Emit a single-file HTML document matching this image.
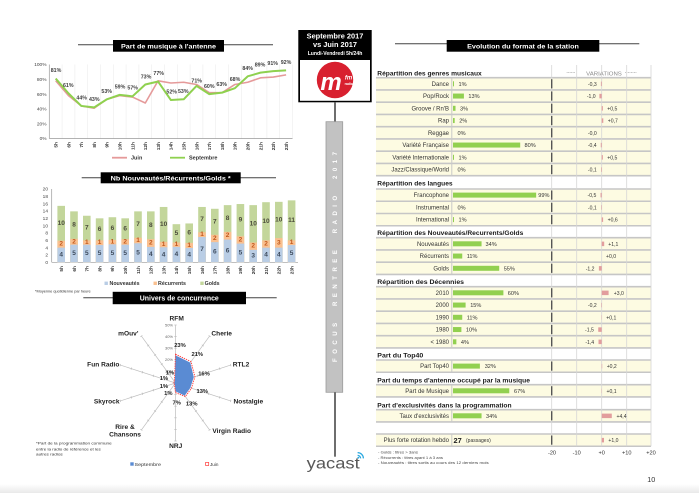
<!DOCTYPE html>
<html><head><meta charset="utf-8"><style>
html,body{margin:0;padding:0;background:#fff;}
svg{display:block;font-family:"Liberation Sans",Arial,sans-serif;}
</style></head><body>
<svg width="699" height="493" viewBox="0 0 699 493" xmlns="http://www.w3.org/2000/svg">
<defs><linearGradient id="bg" x1="0" y1="0" x2="0" y2="1"><stop offset="0" stop-color="#fff"/><stop offset="1" stop-color="#e9e9e9"/></linearGradient></defs>
<rect width="699" height="493" fill="#fff"/>
<rect y="484" width="699" height="9" fill="url(#bg)"/>

<!-- ===== Line chart ===== -->
<line x1="78" y1="44.7" x2="273" y2="44.7" stroke="#444" stroke-width="1"/>
<rect x="113" y="40" width="111" height="11.7" fill="#000"/>
<text x="168.5" y="48.4" fill="#fff" font-size="6.8" font-weight="bold" text-anchor="middle" textLength="95" lengthAdjust="spacingAndGlyphs">Part de musique à l'antenne</text>

<g stroke="#ececec" stroke-width="0.6">
<line x1="62.1" y1="64.5" x2="62.1" y2="138.5"/><line x1="74.9" y1="64.5" x2="74.9" y2="138.5"/><line x1="87.7" y1="64.5" x2="87.7" y2="138.5"/><line x1="100.5" y1="64.5" x2="100.5" y2="138.5"/><line x1="113.3" y1="64.5" x2="113.3" y2="138.5"/><line x1="126.1" y1="64.5" x2="126.1" y2="138.5"/><line x1="138.9" y1="64.5" x2="138.9" y2="138.5"/><line x1="151.7" y1="64.5" x2="151.7" y2="138.5"/><line x1="164.5" y1="64.5" x2="164.5" y2="138.5"/><line x1="177.3" y1="64.5" x2="177.3" y2="138.5"/><line x1="190.1" y1="64.5" x2="190.1" y2="138.5"/><line x1="202.9" y1="64.5" x2="202.9" y2="138.5"/><line x1="215.7" y1="64.5" x2="215.7" y2="138.5"/><line x1="228.5" y1="64.5" x2="228.5" y2="138.5"/><line x1="241.3" y1="64.5" x2="241.3" y2="138.5"/><line x1="254.1" y1="64.5" x2="254.1" y2="138.5"/><line x1="266.9" y1="64.5" x2="266.9" y2="138.5"/><line x1="279.7" y1="64.5" x2="279.7" y2="138.5"/><line x1="292.5" y1="64.5" x2="292.5" y2="138.5"/>
</g>
<line x1="49.3" y1="64.5" x2="49.3" y2="138.5" stroke="#999" stroke-width="0.7"/>
<line x1="49.3" y1="138.5" x2="292.5" y2="138.5" stroke="#999" stroke-width="0.7"/>
<g font-size="4.8" fill="#444" text-anchor="end">
<text x="46.5" y="66.2">100%</text><text x="46.5" y="81">80%</text><text x="46.5" y="95.8">60%</text><text x="46.5" y="110.6">40%</text><text x="46.5" y="125.4">20%</text><text x="46.5" y="140.2">0%</text>
</g>
<polyline fill="none" stroke="#e59a9a" stroke-width="1.6" stroke-linejoin="round" points="55.7,80.78 68.5,95.58 81.3,105.94 94.1,108.16 106.9,99.28 119.7,95.58 132.5,97.06 145.3,102.98 158.1,80.78 170.9,83 183.7,82.26 196.5,84.48 209.3,92.62 222.1,92.62 234.9,84.48 247.7,82.26 260.5,77.82 273.3,77.08 286.1,74.86"/>
<polyline fill="none" stroke="#8fd14f" stroke-width="2" stroke-linejoin="round" points="55.7,78.56 68.5,93.36 81.3,105.94 94.1,107.42 106.9,99.28 119.7,94.84 132.5,96.32 145.3,84.48 158.1,81.52 170.9,100.02 183.7,99.28 196.5,85.96 209.3,94.1 222.1,92.62 234.9,88.18 247.7,76.34 260.5,72.64 273.3,71.16 286.1,70.42"/>
<g font-size="5.3" font-weight="bold" fill="#404040" text-anchor="middle">
<text x="56" y="71.9">81%</text><text x="68.3" y="87.2">61%</text><text x="81.7" y="99.6">44%</text><text x="94.3" y="100.9">43%</text><text x="106.7" y="92.9">53%</text><text x="120" y="88.6">59%</text><text x="132.7" y="89.6">57%</text><text x="146" y="78.6">73%</text><text x="158.7" y="75.2">77%</text><text x="171.7" y="93.6">52%</text><text x="183.3" y="93.2">53%</text><text x="196.7" y="82.6">71%</text><text x="209.3" y="87.9">60%</text><text x="221.7" y="85.9">63%</text><text x="235" y="81.2">68%</text><text x="247.7" y="70.2">84%</text><text x="260" y="66.6">89%</text><text x="272.7" y="65.2">91%</text><text x="286" y="64.2">92%</text>
</g>
<g font-size="4.8" font-weight="bold" fill="#333" text-anchor="end">
<text transform="rotate(-90 57.5 142)" x="57.5" y="142">5h</text>
<text transform="rotate(-90 70.3 142)" x="70.3" y="142">6h</text>
<text transform="rotate(-90 83.1 142)" x="83.1" y="142">7h</text>
<text transform="rotate(-90 95.9 142)" x="95.9" y="142">8h</text>
<text transform="rotate(-90 108.7 142)" x="108.7" y="142">9h</text>
<text transform="rotate(-90 121.5 142)" x="121.5" y="142">10h</text>
<text transform="rotate(-90 134.3 142)" x="134.3" y="142">11h</text>
<text transform="rotate(-90 147.1 142)" x="147.1" y="142">12h</text>
<text transform="rotate(-90 159.9 142)" x="159.9" y="142">13h</text>
<text transform="rotate(-90 172.7 142)" x="172.7" y="142">14h</text>
<text transform="rotate(-90 185.5 142)" x="185.5" y="142">15h</text>
<text transform="rotate(-90 198.3 142)" x="198.3" y="142">16h</text>
<text transform="rotate(-90 211.1 142)" x="211.1" y="142">17h</text>
<text transform="rotate(-90 223.9 142)" x="223.9" y="142">18h</text>
<text transform="rotate(-90 236.7 142)" x="236.7" y="142">19h</text>
<text transform="rotate(-90 249.5 142)" x="249.5" y="142">20h</text>
<text transform="rotate(-90 262.3 142)" x="262.3" y="142">21h</text>
<text transform="rotate(-90 275.1 142)" x="275.1" y="142">22h</text>
<text transform="rotate(-90 287.9 142)" x="287.9" y="142">23h</text>
</g>
<line x1="112" y1="157.7" x2="127" y2="157.7" stroke="#e59a9a" stroke-width="1.8"/>
<text x="131" y="159.6" font-size="5.5" font-weight="bold" fill="#333">Juin</text>
<line x1="170" y1="157.7" x2="185" y2="157.7" stroke="#8fd14f" stroke-width="1.8"/>
<text x="189" y="159.6" font-size="5.5" font-weight="bold" fill="#333">Septembre</text>

<!-- ===== Bar chart ===== -->
<line x1="81.7" y1="177.7" x2="276" y2="177.7" stroke="#444" stroke-width="1"/>
<rect x="100.7" y="172.3" width="140" height="11" fill="#000"/>
<text x="170.7" y="180.4" fill="#fff" font-size="6.8" font-weight="bold" text-anchor="middle" textLength="120" lengthAdjust="spacingAndGlyphs">Nb Nouveautés/Récurrents/Golds *</text>
<g font-size="4.8" fill="#444" text-anchor="end">
<text x="48" y="264">0</text><text x="48" y="256.7">2</text><text x="48" y="249.3">4</text><text x="48" y="242">6</text><text x="48" y="234.7">8</text><text x="48" y="227.4">10</text><text x="48" y="220">12</text><text x="48" y="212.7">14</text><text x="48" y="205.4">16</text><text x="48" y="198">18</text><text x="48" y="190.7">20</text>
</g>
<line x1="51.7" y1="189" x2="51.7" y2="262.3" stroke="#999" stroke-width="0.7"/>
<line x1="51.7" y1="262.3" x2="298" y2="262.3" stroke="#999" stroke-width="0.7"/>
<g>
<g fill="#c3d69b">
<rect x="57.4" y="205.86" width="7.6" height="56.44"/><rect x="70.2" y="211.36" width="7.6" height="50.94"/><rect x="83" y="215.75" width="7.6" height="46.55"/><rect x="95.8" y="218.32" width="7.6" height="43.98"/><rect x="108.6" y="217.22" width="7.6" height="45.08"/><rect x="121.4" y="218.32" width="7.6" height="43.98"/><rect x="134.2" y="211.36" width="7.6" height="50.94"/><rect x="147" y="211.36" width="7.6" height="50.94"/><rect x="159.8" y="206.96" width="7.6" height="55.34"/><rect x="172.6" y="224.18" width="7.6" height="38.12"/><rect x="185.4" y="223.45" width="7.6" height="38.85"/><rect x="198.2" y="206.96" width="7.6" height="55.34"/><rect x="211" y="208.79" width="7.6" height="53.51"/><rect x="223.8" y="205.13" width="7.6" height="57.17"/><rect x="236.6" y="204.03" width="7.6" height="58.27"/><rect x="249.4" y="205.13" width="7.6" height="57.17"/><rect x="262.2" y="202.19" width="7.6" height="60.11"/><rect x="275" y="201.83" width="7.6" height="60.47"/><rect x="287.8" y="200.36" width="7.6" height="61.94"/>
</g>
<g fill="#fac090">
<rect x="57.4" y="240.68" width="7.6" height="21.62"/><rect x="70.2" y="238.84" width="7.6" height="23.46"/><rect x="83" y="240.31" width="7.6" height="21.99"/><rect x="95.8" y="240.31" width="7.6" height="21.99"/><rect x="108.6" y="239.94" width="7.6" height="22.36"/><rect x="121.4" y="239.21" width="7.6" height="23.09"/><rect x="134.2" y="237.74" width="7.6" height="24.56"/><rect x="147" y="239.21" width="7.6" height="23.09"/><rect x="159.8" y="241.78" width="7.6" height="20.52"/><rect x="172.6" y="242.51" width="7.6" height="19.79"/><rect x="185.4" y="242.88" width="7.6" height="19.42"/><rect x="198.2" y="232.25" width="7.6" height="30.05"/><rect x="211" y="234.81" width="7.6" height="27.49"/><rect x="223.8" y="231.88" width="7.6" height="30.42"/><rect x="236.6" y="236.28" width="7.6" height="26.02"/><rect x="249.4" y="242.51" width="7.6" height="19.79"/><rect x="262.2" y="240.31" width="7.6" height="21.99"/><rect x="275" y="238.11" width="7.6" height="24.19"/><rect x="287.8" y="240.31" width="7.6" height="21.99"/>
</g>
<g fill="#b9cde5">
<rect x="57.4" y="247.64" width="7.6" height="14.66"/><rect x="70.2" y="244.71" width="7.6" height="17.59"/><rect x="83" y="244.71" width="7.6" height="17.59"/><rect x="95.8" y="245.07" width="7.6" height="17.23"/><rect x="108.6" y="244.34" width="7.6" height="17.96"/><rect x="121.4" y="244.71" width="7.6" height="17.59"/><rect x="134.2" y="243.24" width="7.6" height="19.06"/><rect x="147" y="246.91" width="7.6" height="15.39"/><rect x="159.8" y="247.27" width="7.6" height="15.03"/><rect x="172.6" y="246.91" width="7.6" height="15.39"/><rect x="185.4" y="248.01" width="7.6" height="14.29"/><rect x="198.2" y="237.01" width="7.6" height="25.29"/><rect x="211" y="242.14" width="7.6" height="20.16"/><rect x="223.8" y="239.58" width="7.6" height="22.72"/><rect x="236.6" y="243.61" width="7.6" height="18.69"/><rect x="249.4" y="249.84" width="7.6" height="12.46"/><rect x="262.2" y="247.64" width="7.6" height="14.66"/><rect x="275" y="247.64" width="7.6" height="14.66"/><rect x="287.8" y="245.07" width="7.6" height="17.23"/>
</g>
</g>
<g font-size="6.5" font-weight="bold" text-anchor="middle" dominant-baseline="central">
<g fill="#3d4a5c">
<text x="61.2" y="254.97">4</text><text x="74" y="253.5">5</text><text x="86.8" y="253.5">5</text><text x="99.6" y="253.69">5</text><text x="112.4" y="253.32">5</text><text x="125.2" y="253.5">5</text><text x="138" y="252.77">5</text><text x="150.8" y="254.6">4</text><text x="163.6" y="254.79">4</text><text x="176.4" y="254.6">4</text><text x="189.2" y="255.15">4</text><text x="202" y="249.66">7</text><text x="214.8" y="252.22">6</text><text x="227.6" y="250.94">6</text><text x="240.4" y="252.96">5</text><text x="253.2" y="256.07">3</text><text x="266" y="254.97">4</text><text x="278.8" y="254.97">4</text><text x="291.6" y="253.69">5</text>
</g>
<g fill="#c0571a">
<text x="61.2" y="244.16">2</text><text x="74" y="241.78">2</text><text x="86.8" y="242.51">1</text><text x="99.6" y="242.69">1</text><text x="112.4" y="242.14">1</text><text x="125.2" y="241.96">2</text><text x="138" y="240.49">1</text><text x="150.8" y="243.06">2</text><text x="163.6" y="244.53">1</text><text x="176.4" y="244.71">1</text><text x="189.2" y="245.45">1</text><text x="202" y="234.63">1</text><text x="214.8" y="238.48">2</text><text x="227.6" y="235.73">2</text><text x="240.4" y="239.95">2</text><text x="253.2" y="246.18">2</text><text x="266" y="243.98">2</text><text x="278.8" y="242.88">3</text><text x="291.6" y="242.69">1</text>
</g>
<g fill="#4a4a3a">
<text x="61.2" y="223.27">10</text><text x="74" y="225.1">8</text><text x="86.8" y="228.03">7</text><text x="99.6" y="229.32">6</text><text x="112.4" y="228.58">6</text><text x="125.2" y="228.77">6</text><text x="138" y="224.55">7</text><text x="150.8" y="225.29">8</text><text x="163.6" y="224.37">10</text><text x="176.4" y="233.35">5</text><text x="189.2" y="233.17">6</text><text x="202" y="219.61">7</text><text x="214.8" y="221.8">7</text><text x="227.6" y="218.5">8</text><text x="240.4" y="220.16">9</text><text x="253.2" y="223.82">10</text><text x="266" y="221.25">10</text><text x="278.8" y="219.97">10</text><text x="291.6" y="220.34">11</text>
</g>
</g>
<g font-size="4.8" font-weight="bold" fill="#333" text-anchor="end">
<text transform="rotate(-90 63 266)" x="63" y="266">5h</text>
<text transform="rotate(-90 75.8 266)" x="75.8" y="266">6h</text>
<text transform="rotate(-90 88.6 266)" x="88.6" y="266">7h</text>
<text transform="rotate(-90 101.4 266)" x="101.4" y="266">8h</text>
<text transform="rotate(-90 114.2 266)" x="114.2" y="266">9h</text>
<text transform="rotate(-90 127 266)" x="127" y="266">10h</text>
<text transform="rotate(-90 139.8 266)" x="139.8" y="266">11h</text>
<text transform="rotate(-90 152.6 266)" x="152.6" y="266">12h</text>
<text transform="rotate(-90 165.4 266)" x="165.4" y="266">13h</text>
<text transform="rotate(-90 178.2 266)" x="178.2" y="266">14h</text>
<text transform="rotate(-90 191 266)" x="191" y="266">15h</text>
<text transform="rotate(-90 203.8 266)" x="203.8" y="266">16h</text>
<text transform="rotate(-90 216.6 266)" x="216.6" y="266">17h</text>
<text transform="rotate(-90 229.4 266)" x="229.4" y="266">18h</text>
<text transform="rotate(-90 242.2 266)" x="242.2" y="266">19h</text>
<text transform="rotate(-90 255 266)" x="255" y="266">20h</text>
<text transform="rotate(-90 267.8 266)" x="267.8" y="266">21h</text>
<text transform="rotate(-90 280.6 266)" x="280.6" y="266">22h</text>
<text transform="rotate(-90 293.4 266)" x="293.4" y="266">23h</text>
</g>
<rect x="104.5" y="281.6" width="3.4" height="3.4" fill="#b9cde5"/>
<text x="109.5" y="285.2" font-size="5.3" font-weight="bold" fill="#333">Nouveautés</text>
<rect x="153.5" y="281.6" width="3.4" height="3.4" fill="#fac090"/>
<text x="158" y="285.2" font-size="5.3" font-weight="bold" fill="#333">Récurrents</text>
<rect x="200.3" y="281.6" width="3.4" height="3.4" fill="#c3d69b"/>
<text x="204.6" y="285.2" font-size="5.3" font-weight="bold" fill="#333">Golds</text>
<text x="35" y="292.6" font-size="3.8" fill="#333" textLength="55.7" lengthAdjust="spacingAndGlyphs">*Moyenne quotidienne par heure</text>

<!-- ===== Radar ===== -->
<line x1="83.3" y1="297.7" x2="276.7" y2="297.7" stroke="#444" stroke-width="1"/>
<rect x="112.7" y="291.8" width="133.3" height="12.4" fill="#000"/>
<text x="179.3" y="300.4" fill="#fff" font-size="7" font-weight="bold" text-anchor="middle" textLength="79" lengthAdjust="spacingAndGlyphs">Univers de concurrence</text>

<g stroke="#bdbdbd" stroke-width="0.7">
<g id="ax"><line x1="175.5" y1="383" x2="175.5" y2="325"/><line x1="174.3" y1="371.4" x2="176.7" y2="371.4"/><line x1="174.3" y1="359.8" x2="176.7" y2="359.8"/><line x1="174.3" y1="348.2" x2="176.7" y2="348.2"/><line x1="174.3" y1="336.6" x2="176.7" y2="336.6"/><line x1="174.3" y1="325" x2="176.7" y2="325"/></g>
<use href="#ax" transform="rotate(36 175.5 383)"/><use href="#ax" transform="rotate(72 175.5 383)"/><use href="#ax" transform="rotate(108 175.5 383)"/><use href="#ax" transform="rotate(144 175.5 383)"/><use href="#ax" transform="rotate(180 175.5 383)"/><use href="#ax" transform="rotate(216 175.5 383)"/><use href="#ax" transform="rotate(252 175.5 383)"/><use href="#ax" transform="rotate(288 175.5 383)"/><use href="#ax" transform="rotate(324 175.5 383)"/>
</g>
<g font-size="4" fill="#666" text-anchor="end">
<text x="173" y="326.4">50%</text><text x="173" y="338">40%</text><text x="173" y="349.6">30%</text><text x="173" y="361.2">20%</text><text x="173" y="372.8">10%</text>
</g>
<polygon points="175.5,355.4 190.31,362.61 193.76,377.07 190.34,387.82 184.67,395.62 175.5,391.4 174.79,383.97 174.36,383.37 174.36,382.63 174.79,382.03" fill="#5a8bd3"/>
<polygon points="175.5,354.2 191.02,361.64 194.9,376.7 191.48,388.19 185.38,396.59 175.5,392.6 174.44,384.46 173.79,383.56 173.79,382.44 174.44,381.54" fill="none" stroke="#ff3b3b" stroke-width="0.9" stroke-dasharray="1.4 0.9"/>
<g font-size="5.8" font-weight="bold" fill="#222" text-anchor="middle">
<text x="180" y="347">23%</text><text x="197.3" y="356">21%</text><text x="204" y="375.7">16%</text><text x="202.3" y="393">13%</text><text x="191.7" y="405.7">13%</text><text x="176.7" y="404.3">7%</text><text x="168.3" y="395">1%</text><text x="164" y="388">1%</text><text x="164" y="380">1%</text><text x="170" y="374.3">1%</text>
</g>
<g font-size="6.6" font-weight="bold" fill="#222" text-anchor="middle">
<text x="176.7" y="320.6">RFM</text><text x="221.7" y="335.6">Cherie</text><text x="241" y="366.3">RTL2</text><text x="248.3" y="403.3">Nostalgie</text><text x="231.7" y="433">Virgin Radio</text><text x="175.7" y="448">NRJ</text><text x="125" y="429">Rire &amp;</text><text x="125" y="436.6">Chansons</text><text x="106.7" y="403.3">Skyrock</text><text x="103.3" y="366.3">Fun Radio</text><text x="128.3" y="335.6">mOuv'</text>
</g>
<g font-size="3.9" fill="#333">
<text x="36" y="444.6" textLength="75.7" lengthAdjust="spacingAndGlyphs">*Part de la programmation commune</text>
<text x="36" y="450.3" textLength="64.7" lengthAdjust="spacingAndGlyphs">entre la radio de référence et les</text>
<text x="36" y="455.6" textLength="26.7" lengthAdjust="spacingAndGlyphs">autres radios</text>
</g>
<rect x="130.3" y="462.3" width="3.4" height="3.4" fill="#5a8bd3"/>
<text x="134.5" y="465.8" font-size="4.6" fill="#333" textLength="26.5" lengthAdjust="spacingAndGlyphs">Septembre</text>
<rect x="205.6" y="462.4" width="3.1" height="3.1" fill="#fff" stroke="#ff3b3b" stroke-width="0.7"/>
<text x="210" y="465.8" font-size="4.6" fill="#333">Juin</text>

<!-- ===== Center column ===== -->
<rect x="298.3" y="30" width="73.4" height="72.3" fill="#000"/>
<rect x="300" y="60" width="70" height="40.8" fill="#fff"/>
<text x="335" y="38.7" fill="#fff" font-size="7.4" font-weight="bold" text-anchor="middle">Septembre 2017</text>
<text x="335" y="46.8" fill="#fff" font-size="7.4" font-weight="bold" text-anchor="middle">vs Juin 2017</text>
<text x="335" y="55.2" fill="#fff" font-size="5.1" font-weight="bold" text-anchor="middle">Lundi-Vendredi 5h/24h</text>
<circle cx="335" cy="80" r="18.2" fill="#d8202f"/>
<text x="331" y="90" fill="#fff" font-size="24" font-weight="bold" font-style="italic" text-anchor="middle">m</text>
<text x="348.5" y="79.5" fill="#fff" font-size="6" font-weight="bold" font-style="italic" text-anchor="middle">fm</text>
<text x="348.8" y="85" fill="#fff" font-size="3.4" font-weight="bold" text-anchor="middle">radio</text>
<line x1="335" y1="102.3" x2="335" y2="122" stroke="#4a4a4a" stroke-width="1.6"/>
<rect x="326" y="121.7" width="16.7" height="270.6" fill="#c2c2c2" stroke="#9c9c9c" stroke-width="0.8"/>
<text transform="translate(337.2,257) rotate(-90)" x="0" y="0" fill="#fff" font-size="6" font-weight="bold" text-anchor="middle" textLength="210" lengthAdjust="spacing" style="white-space:pre">FOCUS  RENTREE  RADIO  2017</text>
<line x1="335" y1="392.3" x2="335" y2="456.7" stroke="#4a4a4a" stroke-width="1.6"/>
<text x="306.7" y="468.3" fill="#585858" font-size="16" textLength="53" lengthAdjust="spacingAndGlyphs">yacast</text>
<g fill="none" stroke="#2aa9e0" stroke-width="1.3">
<path d="M357.6 455.4 A3 3 0 0 1 360.6 458.4"/>
<path d="M357.6 452.6 A5.8 5.8 0 0 1 363.4 458.4"/>
</g>
<circle cx="358.3" cy="457.7" r="0.9" fill="#2aa9e0"/>

<!-- ===== Right table ===== -->
<line x1="395" y1="43.7" x2="639.3" y2="43.7" stroke="#444" stroke-width="1"/>
<rect x="446.7" y="40" width="152.6" height="11.7" fill="#000"/>
<text x="523" y="48.4" fill="#fff" font-size="6.8" font-weight="bold" text-anchor="middle" textLength="111.7" lengthAdjust="spacingAndGlyphs">Evolution du format de la station</text>

<text x="604" y="75.3" font-size="5.5" fill="#8a8a8a" text-anchor="middle" textLength="35.7" lengthAdjust="spacingAndGlyphs">VARIATIONS</text>
<line x1="566.7" y1="72.3" x2="575" y2="72.3" stroke="#9a9a9a" stroke-width="0.6" stroke-dasharray="0.9 0.6"/>
<line x1="625" y1="72.3" x2="636.7" y2="72.3" stroke="#9a9a9a" stroke-width="0.6" stroke-dasharray="0.9 0.6"/>

<g fill="#fdfbe2">
<rect x="376" y="77.7" width="275" height="98"/>
<rect x="376" y="189" width="275" height="36.75"/>
<rect x="376" y="237.7" width="275" height="36.75"/>
<rect x="376" y="286.7" width="275" height="61.25"/>
<rect x="376" y="360" width="275" height="12.25"/>
<rect x="376" y="384.7" width="275" height="12.25"/>
<rect x="376" y="409.7" width="275" height="12.25"/>
<rect x="376" y="434" width="275" height="12.25"/>
</g>
<g stroke="#c6c6c6" stroke-width="1.6">
<line x1="376" y1="77.7" x2="651" y2="77.7"/><line x1="376" y1="89.95" x2="651" y2="89.95"/><line x1="376" y1="102.2" x2="651" y2="102.2"/><line x1="376" y1="114.45" x2="651" y2="114.45"/><line x1="376" y1="126.7" x2="651" y2="126.7"/><line x1="376" y1="138.95" x2="651" y2="138.95"/><line x1="376" y1="151.2" x2="651" y2="151.2"/><line x1="376" y1="163.45" x2="651" y2="163.45"/><line x1="376" y1="175.7" x2="651" y2="175.7"/>
<line x1="376" y1="189" x2="651" y2="189"/><line x1="376" y1="201.25" x2="651" y2="201.25"/><line x1="376" y1="213.5" x2="651" y2="213.5"/><line x1="376" y1="225.75" x2="651" y2="225.75"/>
<line x1="376" y1="237.7" x2="651" y2="237.7"/><line x1="376" y1="249.95" x2="651" y2="249.95"/><line x1="376" y1="262.2" x2="651" y2="262.2"/><line x1="376" y1="274.45" x2="651" y2="274.45"/>
<line x1="376" y1="286.7" x2="651" y2="286.7"/><line x1="376" y1="298.95" x2="651" y2="298.95"/><line x1="376" y1="311.2" x2="651" y2="311.2"/><line x1="376" y1="323.45" x2="651" y2="323.45"/><line x1="376" y1="335.7" x2="651" y2="335.7"/><line x1="376" y1="347.95" x2="651" y2="347.95"/>
<line x1="376" y1="360" x2="651" y2="360"/><line x1="376" y1="372.25" x2="651" y2="372.25"/>
<line x1="376" y1="384.7" x2="651" y2="384.7"/><line x1="376" y1="396.95" x2="651" y2="396.95"/>
<line x1="376" y1="409.7" x2="651" y2="409.7"/><line x1="376" y1="421.95" x2="651" y2="421.95"/>
<line x1="376" y1="434" x2="651" y2="434"/><line x1="376" y1="446.25" x2="651" y2="446.25"/>
</g>
<g stroke="#c9c9c9" stroke-width="1">
<line x1="451.8" y1="77.7" x2="451.8" y2="175.7"/><line x1="451.8" y1="189" x2="451.8" y2="225.75"/><line x1="451.8" y1="237.7" x2="451.8" y2="274.45"/><line x1="451.8" y1="286.7" x2="451.8" y2="347.95"/><line x1="451.8" y1="360" x2="451.8" y2="372.25"/><line x1="451.8" y1="384.7" x2="451.8" y2="396.95"/><line x1="451.8" y1="409.7" x2="451.8" y2="421.95"/><line x1="451.8" y1="434" x2="451.8" y2="446.25"/>
</g>
<g stroke="#d6d6d6" stroke-width="0.8">
<line x1="551.7" y1="65" x2="551.7" y2="446.25"/>
<line x1="576.7" y1="65" x2="576.7" y2="446.25"/>
<line x1="601.7" y1="65" x2="601.7" y2="446.25"/>
<line x1="626.7" y1="65" x2="626.7" y2="446.25"/>
<line x1="651" y1="65" x2="651" y2="446.25"/>
</g>
<g stroke="#555" stroke-width="1.4">
<line x1="551.7" y1="79.2" x2="551.7" y2="88.4"/><line x1="551.7" y1="91.45" x2="551.7" y2="100.65"/><line x1="551.7" y1="103.7" x2="551.7" y2="112.9"/><line x1="551.7" y1="115.95" x2="551.7" y2="125.15"/><line x1="551.7" y1="128.2" x2="551.7" y2="137.4"/><line x1="551.7" y1="140.45" x2="551.7" y2="149.65"/><line x1="551.7" y1="152.7" x2="551.7" y2="161.9"/><line x1="551.7" y1="164.95" x2="551.7" y2="174.15"/>
<line x1="551.7" y1="190.5" x2="551.7" y2="199.7"/><line x1="551.7" y1="202.75" x2="551.7" y2="211.95"/><line x1="551.7" y1="215" x2="551.7" y2="224.2"/>
<line x1="551.7" y1="239.2" x2="551.7" y2="248.4"/><line x1="551.7" y1="251.45" x2="551.7" y2="260.65"/><line x1="551.7" y1="263.7" x2="551.7" y2="272.9"/>
<line x1="551.7" y1="288.2" x2="551.7" y2="297.4"/><line x1="551.7" y1="300.45" x2="551.7" y2="309.65"/><line x1="551.7" y1="312.7" x2="551.7" y2="321.9"/><line x1="551.7" y1="324.95" x2="551.7" y2="334.15"/><line x1="551.7" y1="337.2" x2="551.7" y2="346.4"/>
<line x1="551.7" y1="361.5" x2="551.7" y2="370.7"/><line x1="551.7" y1="386.2" x2="551.7" y2="395.4"/><line x1="551.7" y1="411.2" x2="551.7" y2="420.4"/><line x1="551.7" y1="435.5" x2="551.7" y2="444.7"/>
</g>

<g font-size="6.6" font-weight="bold" fill="#1a1a1a">
<text x="377.3" y="75.7" textLength="104.4" lengthAdjust="spacingAndGlyphs">Répartition des genres musicaux</text>
<text x="377.3" y="185.7" textLength="75.3" lengthAdjust="spacingAndGlyphs">Répartition des langues</text>
<text x="377.3" y="235.1" textLength="146" lengthAdjust="spacingAndGlyphs">Répartition des Nouveautés/Recurrents/Golds</text>
<text x="377.3" y="284.1" textLength="86.7" lengthAdjust="spacingAndGlyphs">Répartition des Décennies</text>
<text x="377.3" y="357.4" textLength="46" lengthAdjust="spacingAndGlyphs">Part du Top40</text>
<text x="377.3" y="382.4" textLength="152.7" lengthAdjust="spacingAndGlyphs">Part du temps d'antenne occupé par la musique</text>
<text x="377.3" y="407.4" textLength="134.3" lengthAdjust="spacingAndGlyphs">Part d'exclusivités dans la programmation</text>
</g>

<g font-size="6" fill="#333" text-anchor="end">
<text x="449" y="85.9">Dance</text><text x="449" y="98.15">Pop/Rock</text><text x="449" y="110.4">Groove / Rn'B</text><text x="449" y="122.65">Rap</text><text x="449" y="134.9">Reggae</text><text x="449" y="147.15">Variété Française</text><text x="449" y="159.4">Variété Internationale</text><text x="449" y="171.65">Jazz/Classique/World</text>
<text x="449" y="197.2">Francophone</text><text x="449" y="209.45">Instrumental</text><text x="449" y="221.7">International</text>
<text x="449" y="245.9">Nouveautés</text><text x="449" y="258.15">Récurrents</text><text x="449" y="270.4">Golds</text>
<text x="449" y="294.9">2010</text><text x="449" y="307.15">2000</text><text x="449" y="319.4">1990</text><text x="449" y="331.65">1980</text><text x="449" y="343.9">&lt; 1980</text>
<text x="449" y="368.2">Part Top40</text><text x="449" y="392.9">Part de Musique</text><text x="449" y="417.9">Taux d'exclusivités</text><text x="449" y="442.2">Plus forte rotation hebdo</text>
</g>

<g fill="#92d050">
<rect x="453" y="81.3" width="1" height="5"/><rect x="453" y="93.55" width="10.92" height="5"/><rect x="453" y="105.8" width="2.52" height="5"/><rect x="453" y="118.05" width="1.68" height="5"/><rect x="453" y="142.55" width="67.2" height="5"/><rect x="453" y="154.8" width="1" height="5"/>
<rect x="453" y="192.6" width="83.16" height="5"/><rect x="453" y="217.1" width="1" height="5"/>
<rect x="453" y="241.3" width="28.56" height="5"/><rect x="453" y="253.55" width="9.24" height="5"/><rect x="453" y="265.8" width="46.2" height="5"/>
<rect x="453" y="290.3" width="50.4" height="5"/><rect x="453" y="302.55" width="12.6" height="5"/><rect x="453" y="314.8" width="9.24" height="5"/><rect x="453" y="327.05" width="8.4" height="5"/><rect x="453" y="339.3" width="3.36" height="5"/>
<rect x="453" y="363.6" width="26.88" height="5"/><rect x="453" y="388.3" width="56.28" height="5"/><rect x="453" y="413.3" width="28.56" height="5"/>
</g>
<g font-size="5.6" fill="#333">
<text x="458.5" y="85.8">1%</text><text x="468.4" y="98.05">13%</text><text x="460" y="110.3">3%</text><text x="459.2" y="122.55">2%</text><text x="457.5" y="134.8">0%</text><text x="524.5" y="147.05">80%</text><text x="458.5" y="159.3">1%</text><text x="457.5" y="171.55">0%</text>
<text x="538.3" y="197.1">99%</text><text x="457.5" y="209.35">0%</text><text x="458.5" y="221.6">1%</text>
<text x="485.5" y="245.8">34%</text><text x="466.7" y="258.05">11%</text><text x="503.7" y="270.3">55%</text>
<text x="507.8" y="294.8">60%</text><text x="470.2" y="307.05">15%</text><text x="466.7" y="319.3">11%</text><text x="465.9" y="331.55">10%</text><text x="460.9" y="343.8">4%</text>
<text x="484.7" y="368.1">32%</text><text x="514" y="392.8">67%</text><text x="486" y="417.8">34%</text>
<text x="466" y="442.1" font-size="5">(passages)</text>
</g>
<text x="453.5" y="443" font-size="7.4" font-weight="bold" fill="#222">27</text>

<g fill="#e29d9d">
<rect x="600.9" y="81.6" width="0.8" height="4.5"/><rect x="599.4" y="93.85" width="2.3" height="4.5"/><rect x="601.7" y="106.1" width="1.15" height="4.5"/><rect x="601.7" y="118.35" width="1.6" height="4.5"/><rect x="600.78" y="142.85" width="0.92" height="4.5"/><rect x="601.7" y="155.1" width="1.15" height="4.5"/><rect x="601.1" y="167.35" width="0.6" height="4.5"/>
<rect x="600.55" y="192.9" width="1.15" height="4.5"/><rect x="601.2" y="205.15" width="0.5" height="4.5"/><rect x="601.7" y="217.4" width="1.4" height="4.5"/>
<rect x="601.7" y="241.6" width="2.5" height="4.5"/><rect x="598.9" y="266.1" width="2.8" height="4.5"/>
<rect x="601.7" y="290.6" width="6.9" height="4.5"/><rect x="601.2" y="302.85" width="0.5" height="4.5"/><rect x="601.7" y="315.1" width="0.3" height="4.5"/><rect x="598.25" y="327.35" width="3.45" height="4.5"/><rect x="598.5" y="339.6" width="3.2" height="4.5"/>
<rect x="601.7" y="363.9" width="0.5" height="4.5"/><rect x="601.7" y="388.6" width="0.3" height="4.5"/><rect x="601.7" y="413.6" width="10.1" height="4.5"/><rect x="601.7" y="437.9" width="2.3" height="4.5"/>
</g>
<g font-size="5.1" fill="#333">
<g text-anchor="end">
<text x="596.7" y="85.8">-0,3</text><text x="595.6" y="98.05">-1,0</text><text x="596.7" y="134.8">-0,0</text><text x="596.6" y="147.05">-0,4</text><text x="596.7" y="171.55">-0,1</text>
<text x="596.3" y="197.1">-0,5</text><text x="596.7" y="209.35">-0,1</text>
<text x="594.5" y="270.3">-1,2</text>
<text x="596.7" y="307.05">-0,2</text><text x="593.8" y="331.55">-1,5</text><text x="594.1" y="343.8">-1,4</text>
</g>
<text x="607.3" y="110.3">+0,5</text><text x="607.8" y="122.55">+0,7</text><text x="607.3" y="159.3">+0,5</text>
<text x="607.6" y="221.6">+0,6</text>
<text x="608.3" y="245.8">+1,1</text><text x="606" y="258.05">+0,0</text>
<text x="613.8" y="294.8">+3,0</text><text x="606.3" y="319.3">+0,1</text>
<text x="606.7" y="368.1">+0,2</text><text x="606.5" y="392.8">+0,1</text><text x="616.5" y="417.8">+4,4</text><text x="608.4" y="442.1">+1,0</text>
</g>

<g font-size="5.6" fill="#333" text-anchor="middle">
<text x="552" y="454.6">-20</text><text x="576.7" y="454.6">-10</text><text x="601.7" y="454.6">+0</text><text x="626.7" y="454.6">+10</text><text x="651" y="454.6">+20</text>
</g>
<g font-size="3.8" fill="#444">
<text x="378" y="453.6" textLength="40" lengthAdjust="spacingAndGlyphs">- Golds : titres &gt; 3ans</text>
<text x="378" y="458.9" textLength="65" lengthAdjust="spacingAndGlyphs">- Récurrents : titres ayant 1 à 3 ans</text>
<text x="378" y="464.2" textLength="110.7" lengthAdjust="spacingAndGlyphs">- Nouveautés : titres sortis au cours des 12 derniers mois</text>
</g>
<text x="651.3" y="481.8" font-size="7.2" fill="#333" text-anchor="middle">10</text>
</svg>
</body></html>
